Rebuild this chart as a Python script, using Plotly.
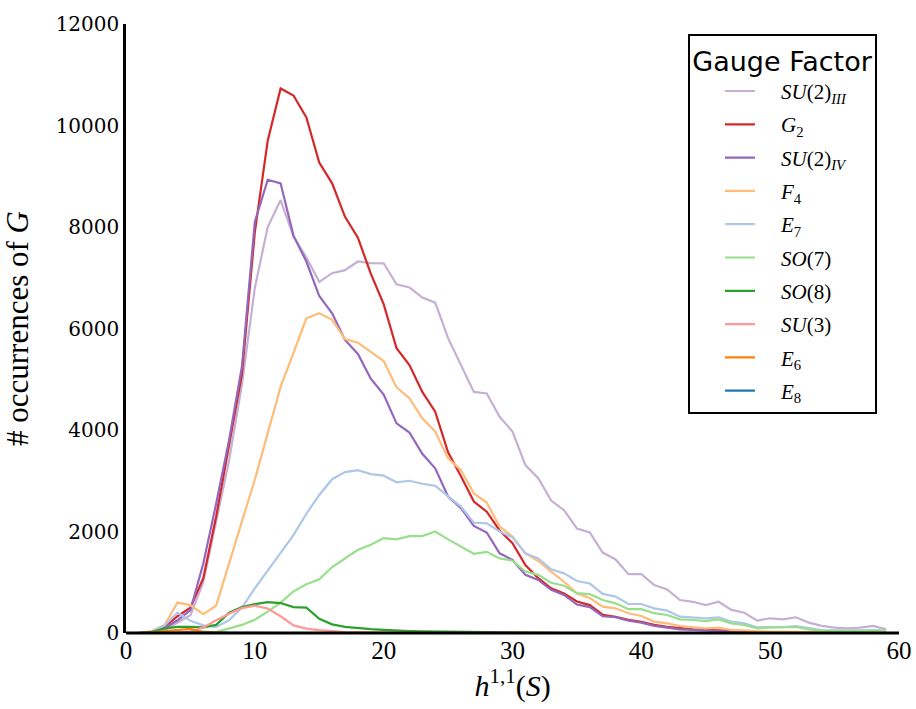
import plotly.graph_objects as go

x = list(range(1, 60))

su2_III = [0, 10, 60, 200, 350, 1000, 2200, 3400, 4900, 6800,
           8000, 8530, 7810, 7400, 6920, 7090, 7150, 7320, 7290, 7285,
           6870, 6810, 6610, 6510, 5810, 5280, 4750, 4720, 4260, 3970,
           3310, 3050, 2610, 2420, 2060, 1980, 1585, 1450, 1160, 1160,
           945, 860, 650, 615, 550, 615, 455, 400, 245, 290,
           270, 310, 205, 140, 105, 92, 105, 140, 72]
g2 = [0, 20, 120, 330, 500, 1080, 2300, 3700, 5100, 7900,
      9700, 10730, 10590, 10160, 9270, 8860, 8200, 7790, 7080, 6480,
      5610, 5280, 4750, 4360, 3560, 3090, 2590, 2390, 2020, 1770,
      1340, 1080, 880, 780, 620, 550, 360, 320, 260, 220,
      160, 120, 90, 70, 60, 50, 35, 20, 15, 10,
      10, 8, 6, 5, 5, 4, 3, 3, 2]
su2_IV = [0, 20, 100, 250, 450, 1370, 2550, 3800, 5250, 8100,
          8930, 8860, 7830, 7320, 6640, 6300, 5775, 5500, 5010, 4700,
          4130, 3950, 3530, 3245, 2690, 2460, 2110, 1980, 1570, 1440,
          1145, 1045, 850, 750, 560, 510, 330, 310, 245, 205,
          140, 110, 72, 60, 46, 33, 20, 15, 10, 8,
          6, 5, 4, 3, 3, 2, 2, 1, 1]
f4 = [0, 40, 160, 600, 550, 370, 540, 1350, 2200, 3020,
      3940, 4850, 5520, 6200, 6300, 6170, 5790, 5720, 5540, 5360,
      4840, 4625, 4230, 3970, 3440, 3210, 2750, 2570, 2100, 1900,
      1570, 1420, 1210, 1010, 780, 690, 520, 486, 390, 335,
      225, 190, 138, 118, 92, 105, 60, 52, 33, 30,
      30, 30, 25, 20, 15, 15, 15, 15, 15]
e7 = [0, 30, 150, 400, 240, 150, 120, 250, 500, 880,
      1230, 1570, 1930, 2350, 2720, 3030, 3170, 3210, 3130, 3100,
      2970, 3000, 2940, 2900, 2690, 2490, 2175, 2160, 2000, 1885,
      1570, 1470, 1255, 1175, 1025, 975, 770, 716, 571, 571,
      486, 440, 322, 309, 289, 309, 223, 190, 112, 118,
      118, 138, 92, 59, 52, 46, 52, 59, 46]
so7 = [0, 0, 5, 10, 20, 30, 20, 90, 160, 260,
       420, 600, 820, 960, 1060, 1300, 1470, 1640, 1740, 1870,
       1845, 1910, 1910, 2000, 1845, 1700, 1560, 1600, 1470, 1425,
       1210, 1145, 990, 930, 785, 765, 650, 585, 470, 470,
       390, 355, 270, 256, 236, 269, 190, 158, 92, 105,
       105, 118, 72, 46, 40, 35, 40, 45, 40]
so8 = [0, 20, 90, 120, 120, 110, 160, 400, 510, 570,
       610, 590, 510, 500, 280, 170, 120, 95, 75, 60,
       45, 38, 32, 28, 20, 14, 10, 7, 5, 3,
       2, 1, 1, 0, 0, 0, 0, 0, 0, 0,
       0, 0, 0, 0, 0, 0, 0, 0, 0, 0,
       0, 0, 0, 0, 0, 0, 0, 0, 0]
su3 = [0, 0, 5, 10, 30, 110, 250, 380, 490, 540,
       480, 330, 150, 85, 55, 35, 20, 15, 10, 8,
       5, 3, 2, 1, 0, 0, 0, 0, 0, 0,
       0, 0, 0, 0, 0, 0, 0, 0, 0, 0,
       0, 0, 0, 0, 0, 0, 0, 0, 0, 0,
       0, 0, 0, 0, 0, 0, 0, 0, 0]
e6 = [0, 10, 40, 60, 80, 20, 5, 2, 0, 0,
      0, 0, 0, 0, 0, 0, 0, 0, 0, 0,
      0, 0, 0, 0, 0, 0, 0, 0, 0, 0,
      0, 0, 0, 0, 0, 0, 0, 0, 0, 0,
      0, 0, 0, 0, 0, 0, 0, 0, 0, 0,
      0, 0, 0, 0, 0, 0, 0, 0, 0]
e8 = [0, 5, 10, 15, 10, 5, 2, 0, 0, 0,
      0, 0, 0, 0, 0, 0, 0, 0, 0, 0,
      0, 0, 0, 0, 0, 0, 0, 0, 0, 0,
      0, 0, 0, 0, 0, 0, 0, 0, 0, 0,
      0, 0, 0, 0, 0, 0, 0, 0, 0, 0,
      0, 0, 0, 0, 0, 0, 0, 0, 0]

x_ticks = [0, 10, 20, 30, 40, 50, 60]
x_tick_labels = ["0", "10", "20", "30", "40", "50", "60"]
y_ticks = [0, 2000, 4000, 6000, 8000, 10000, 12000]
y_tick_labels = ["0", "2000", "4000", "6000", "8000", "10000", "12000"]

series_names = [
    "<i>SU</i>(2)<sub><i>III</i></sub>",
    "<i>G</i><sub>2</sub>",
    "<i>SU</i>(2)<sub><i>IV</i></sub>",
    "<i>F</i><sub>4</sub>",
    "<i>E</i><sub>7</sub>",
    "<i>SO</i>(7)",
    "<i>SO</i>(8)",
    "<i>SU</i>(3)",
    "<i>E</i><sub>6</sub>",
    "<i>E</i><sub>8</sub>",
]
series_values = [su2_III, g2, su2_IV, f4, e7, so7, so8, su3, e6, e8]
colors = ["#c5b0d5", "#d62728", "#9467bd", "#ffbb78", "#aec7e8",
          "#98df8a", "#2ca02c", "#ff9896", "#ff7f0e", "#1f77b4"]

SERIF = "Liberation Serif, Times New Roman, Times, DejaVu Serif, serif"
PAD = "&nbsp;&nbsp;&nbsp;&nbsp;"

fig = go.Figure()
for i, (name, vals, col) in enumerate(zip(series_names, series_values, colors)):
    fig.add_trace(go.Scatter(
        x=x, y=vals, mode="lines", name=PAD + name,
        line=dict(color=col, width=2.2),
        legendgroup=f"g{i}", showlegend=True,
    ))

# bottom spine drawn on top of the traces, centred on y = 0 (like matplotlib)
fig.add_shape(type="line", xref="paper", yref="paper", x0=0, x1=1, y0=0, y1=0,
              line=dict(color="black", width=3), layer="above")

fig.update_layout(
    width=916, height=709,
    margin=dict(l=126, r=17, t=24, b=76),
    paper_bgcolor="white", plot_bgcolor="white",
    showlegend=True,
    legend=dict(
        x=0.727, y=0.984, xanchor="left", yanchor="top",
        bgcolor="white", bordercolor="black", borderwidth=2,
        font=dict(family=SERIF, size=21, color="black"),
        title=dict(text="Gauge Factor", side="top center",
                   font=dict(family="DejaVu Sans", size=27, color="black")),
        tracegroupgap=3,
        itemwidth=30,
        indentation=30,
        traceorder="grouped",
    ),
    xaxis=dict(
        range=[0, 60], tickvals=x_ticks, ticktext=x_tick_labels,
        showgrid=False, zeroline=False, automargin=False,
        showline=False,
        ticks="", tickfont=dict(family=SERIF, size=25, color="black"),
        title=dict(text="<i>h</i><sup>1,1</sup>(<i>S</i>)",
                   font=dict(family=SERIF, size=30, color="black"),
                   standoff=10),
    ),
    yaxis=dict(
        range=[0, 12000], tickvals=y_ticks, ticktext=y_tick_labels,
        showgrid=False, zeroline=False, automargin=False,
        showline=True, linecolor="black", linewidth=2.5, layer="above traces",
        ticks="", tickfont=dict(family="DejaVu Serif", size=20, color="black"),
        title=dict(text="# occurrences of <i>G</i>",
                   font=dict(family=SERIF, size=31, color="black"),
                   standoff=20),
    ),
)

fig.write_html("out.html")
